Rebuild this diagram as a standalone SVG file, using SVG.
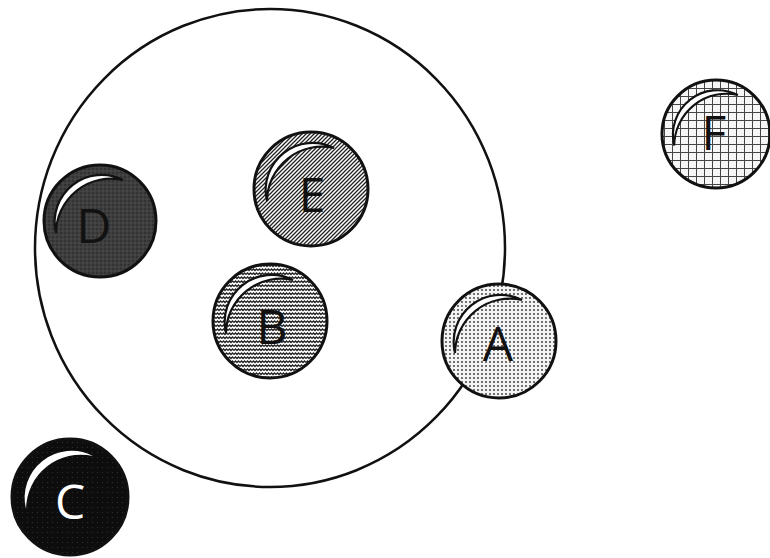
<svg xmlns="http://www.w3.org/2000/svg" width="770" height="558" viewBox="0 0 770 558">
<style>
.ball{stroke:#111;stroke-width:3}
.hl{fill:#fff;stroke:#111;stroke-width:2.2}
.lbl{font-family:"Open Sans","Liberation Sans",sans-serif;font-size:48px;text-anchor:middle;dominant-baseline:central;fill:#111}
</style>
<defs>
<pattern id="pD" width="4" height="4" patternUnits="userSpaceOnUse">
<rect width="4" height="4" fill="#3e3e3e"/><circle cx="1" cy="1" r="0.8" fill="#222"/><circle cx="3" cy="3" r="0.6" fill="#5a5a5a"/>
</pattern>
<pattern id="pE" width="4" height="4" patternUnits="userSpaceOnUse">
<rect width="4" height="4" fill="#fff"/><path d="M-1,1 L1,-1 M0,4 L4,0 M3,5 L5,3" stroke="#222" stroke-width="1.3"/>
</pattern>
<pattern id="pB" width="6" height="4" patternUnits="userSpaceOnUse">
<rect width="6" height="4" fill="#fff"/><path d="M0,2.5 L1.5,1 L3,2.5 L4.5,1 L6,2.5" fill="none" stroke="#222" stroke-width="1.4"/>
</pattern>
<pattern id="pA" width="4" height="4" patternUnits="userSpaceOnUse">
<rect width="4" height="4" fill="#f4f4f4"/><circle cx="2" cy="2" r="0.9" fill="#333"/>
</pattern>
<pattern id="pF" width="8" height="8" patternUnits="userSpaceOnUse">
<rect width="8" height="8" fill="#f6f6f6"/><path d="M0,0.5 H8 M0.5,0 V8" stroke="#444" stroke-width="1"/>
</pattern>
<pattern id="pC" width="5" height="5" patternUnits="userSpaceOnUse">
<rect width="5" height="5" fill="#0d0d0d"/><circle cx="2.5" cy="2.5" r="0.6" fill="#333"/>
</pattern>
<path id="crescent" d="M-44,12 A47 47 0 0 1 23,-41 A55 55 0 0 0 -44,12 Z"/>
</defs>
<rect width="770" height="558" fill="#fff"/>
<g id="group">
<ellipse cx="270" cy="248" rx="235" ry="239" fill="none" stroke="#111" stroke-width="2.5"/>
</g>
<g id="connectors"/>
<g id="D">
<circle class="ball" cx="100" cy="221" r="56" fill="url(#pD)"/>
<use href="#crescent" class="hl" transform="translate(100,221)"/>
<text class="lbl" x="94" y="224">D</text>
</g>
<g id="E">
<circle class="ball" cx="311" cy="189" r="57" fill="url(#pE)"/>
<use href="#crescent" class="hl" transform="translate(311,189)"/>
<text class="lbl" x="312" y="193">E</text>
</g>
<g id="B">
<circle class="ball" cx="270" cy="321" r="57" fill="url(#pB)"/>
<use href="#crescent" class="hl" transform="translate(270,321)"/>
<text class="lbl" x="272" y="325">B</text>
</g>
<g id="A">
<circle class="ball" cx="499" cy="341" r="57" fill="url(#pA)"/>
<use href="#crescent" class="hl" transform="translate(499,341)"/>
<text class="lbl" x="498" y="342">A</text>
</g>
<g id="F">
<circle class="ball" cx="716" cy="134" r="54" fill="url(#pF)"/>
<use href="#crescent" class="hl" transform="translate(716,134) scale(0.95)"/>
<text class="lbl" x="714" y="131">F</text>
</g>
<g id="C">
<circle class="ball" cx="70" cy="497" r="58" fill="url(#pC)"/>
<use href="#crescent" transform="translate(70,497)" fill="#fff"/>
<text class="lbl" x="70" y="500" style="fill:#fff">C</text>
</g>
</svg>
